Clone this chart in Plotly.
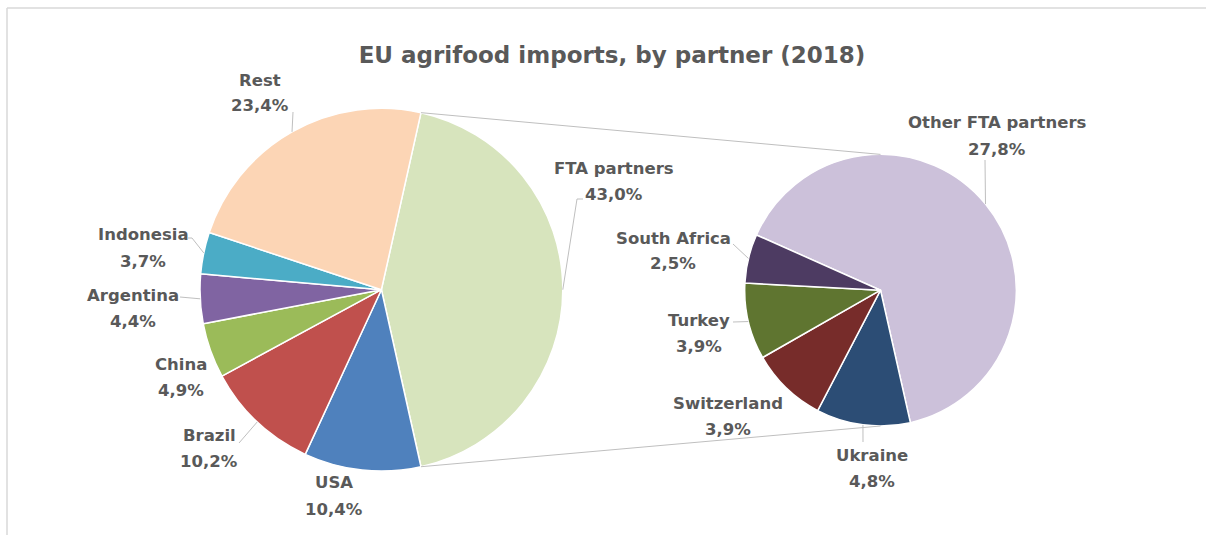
import math
import plotly.graph_objects as go

# data (share of EU agrifood imports, 2018, %)
main_labels = ["FTA partners", "USA", "Brazil", "China", "Argentina", "Indonesia", "Rest"]
main_values = [43.0, 10.4, 10.2, 4.9, 4.4, 3.7, 23.4]
main_colors = ["#D7E4BD", "#4F81BD", "#C0504D", "#9BBB59", "#8064A2", "#4BACC6", "#FCD5B5"]

fta_labels = ["Other FTA partners", "Ukraine", "Switzerland", "Turkey", "South Africa"]
fta_values = [27.8, 4.8, 3.9, 3.9, 2.5]
fta_colors = ["#CCC1DA", "#2C4D75", "#772C2A", "#5F7530", "#4D3B62"]

W, H = 1206, 535
TXT = "#595959"
LINE = "#BFBFBF"
FONT = "DejaVu Sans"

# pie geometry in pixels (centre x, centre y, radius)
left_pie = (381.4, 289.7, 181.4)
right_pie = (880.5, 290.2, 135.8)

# first pie: FTA slice centred at 3 o'clock
left_rot = 90 - main_values[0] / sum(main_values) * 360 / 2
right_rot = -66

# label positions (pixel centre of the name line) and leader knee points
left_lab = {
    "FTA partners": (614, 168, [(583, 199), (577, 199)]),
    "USA": (334, 483, None),
    "Brazil": (209, 435, [(239, 443)]),
    "China": (181, 364, None),
    "Argentina": (133, 295, [(180, 297)]),
    "Indonesia": (143, 235, [(188, 238), (192, 238)]),
    "Rest": (260, 80, [(293, 112)]),
}
right_lab = {
    "Other FTA partners": (997, 123, [(985, 160)]),
    "Ukraine": (872, 455, [(863, 442)]),
    "Switzerland": (728, 403, None),
    "Turkey": (699, 320, [(733, 322)]),
    "South Africa": (673, 238, [(733, 244)]),
}


def fx(px):
    return px / W


def fy(py):
    return 1 - py / H


def pct(v):
    return f"{v:.1f}".replace(".", ",") + "%"


def on_circle(pie, ang):
    cx, cy, r = pie
    a = math.radians(ang)
    return cx + r * math.sin(a), cy - r * math.cos(a)


def mid_angles(values, rot):
    tot = sum(values)
    out, a = [], rot
    for v in values:
        d = v / tot * 360
        out.append(a + d / 2)
        a += d
    return out


def domain(pie):
    cx, cy, r = pie
    return dict(x=[fx(cx - r), fx(cx + r)], y=[fy(cy + r), fy(cy - r)])


fig = go.Figure()
fig.add_trace(go.Pie(
    labels=main_labels, values=main_values, sort=False, direction="clockwise",
    rotation=left_rot, domain=domain(left_pie), textinfo="none",
    marker=dict(colors=main_colors, line=dict(color="white", width=1.5)),
    hoverinfo="label+percent", showlegend=False,
))
fig.add_trace(go.Pie(
    labels=fta_labels, values=fta_values, sort=False, direction="clockwise",
    rotation=right_rot, domain=domain(right_pie), textinfo="none",
    marker=dict(colors=fta_colors, line=dict(color="white", width=1.5)),
    hoverinfo="label+value", showlegend=False,
))

shapes = []
annotations = []


def add_line(x0, y0, x1, y1, color=LINE, width=1):
    shapes.append(dict(type="line", xref="paper", yref="paper",
                       x0=fx(x0), y0=fy(y0), x1=fx(x1), y1=fy(y1),
                       line=dict(color=color, width=width)))


def add_labels(pie, labels, values, rot, pos):
    for lab, v, ang in zip(labels, values, mid_angles(values, rot)):
        x, y, knees = pos[lab]
        for txt, yy in ((lab, y), (pct(v), y + 26)):
            annotations.append(dict(
                x=fx(x), y=fy(yy), xref="paper", yref="paper", text="<b>" + txt + "</b>",
                showarrow=False, xanchor="center", yanchor="middle",
                font=dict(family=FONT, size=16.5, color=TXT),
            ))
        if knees:
            pts = knees + [on_circle(pie, ang)]
            for (x0, y0), (x1, y1) in zip(pts[:-1], pts[1:]):
                add_line(x0, y0, x1, y1)


add_labels(left_pie, main_labels, main_values, left_rot, left_lab)
add_labels(right_pie, fta_labels, fta_values, right_rot, right_lab)

# connector lines from the FTA slice to the top and bottom of the second pie
fta_span = main_values[0] / sum(main_values) * 360
for ang, end in ((left_rot, right_pie[1] - right_pie[2]),
                 (left_rot + fta_span, right_pie[1] + right_pie[2])):
    x0, y0 = on_circle(left_pie, ang)
    add_line(x0, y0, right_pie[0], end)

# chart frame, only top and left edges are visible in the screenshot
add_line(7, 8, W, 8, color="#D9D9D9", width=1.5)
add_line(7, 8, 7, H, color="#D9D9D9", width=1.5)

fig.update_layout(
    width=W, height=H,
    margin=dict(l=0, r=0, t=0, b=0),
    paper_bgcolor="white", plot_bgcolor="white",
    title=dict(text="<b>EU agrifood imports, by partner (2018)</b>",
               x=fx(612), y=fy(55), xanchor="center", yanchor="middle",
               font=dict(family=FONT, size=23, color=TXT)),
    shapes=shapes, annotations=annotations,
)

# drop the default page margin so the figure sits at the window's top-left
fig.write_html("out.html", config={"displayModeBar": False},
               post_script="document.body.style.margin = '0';")
